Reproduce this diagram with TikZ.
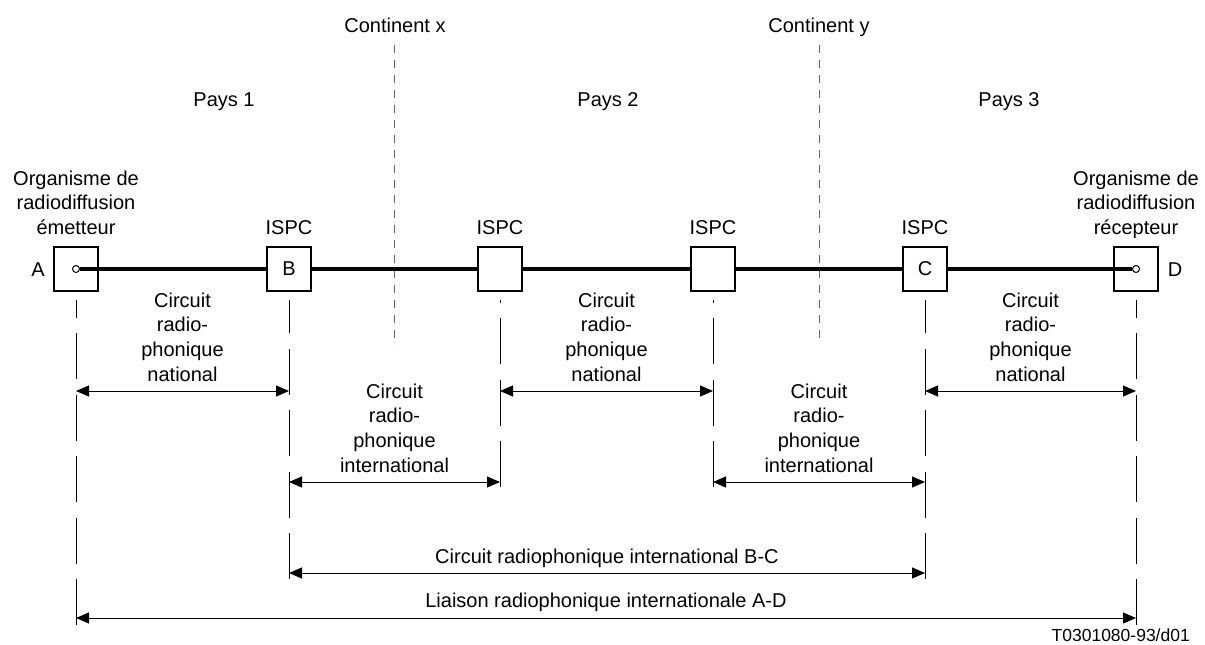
\documentclass[tikz,border=0pt]{standalone}
\usepackage{fontspec}
\setmainfont{Liberation Sans}
\usetikzlibrary{arrows.meta,positioning}

\tikzset{
    station/.style={draw, line width=2.2pt, minimum size=44pt, inner sep=0pt, font=\fontsize{20}{24.7}\selectfont},
    port/.style={draw, circle, line width=1pt, minimum size=7pt, inner sep=0pt, fill=white},
    lbl/.style={font=\fontsize{20}{24.7}\selectfont, align=center, inner sep=0pt},
    link/.style={line width=3.2pt},
    guide/.style={line width=1pt, dash pattern=on 46pt off 15.5pt},
    border/.style={line width=1pt, black!60, dash pattern=on 8pt off 7pt},
    span/.style={line width=1pt, {Triangle[length=13pt,width=11pt]}-{Triangle[length=13pt,width=11pt]}},
}

\begin{document}
\begin{tikzpicture}[x=1pt, y=-1pt]
    \useasboundingbox (0,0) rectangle (1205,645);

    % continents and countries
    \node[lbl, anchor=base] (contx) at (395,32) {Continent x};
    \node[lbl, anchor=base] (conty) at (819,32) {Continent y};
    \coordinate (contx-top) at (394,45);
    \coordinate (contx-bot) at (394,345);
    \coordinate (conty-top) at (819,45);
    \coordinate (conty-bot) at (819,345);
    \draw[border] (contx-top) -- (contx-bot);
    \draw[border] (conty-top) -- (conty-bot);

    \node[lbl, anchor=base] (pays1) at (224,106) {Pays 1};
    \node[lbl, anchor=base] (pays2) at (608,106) {Pays 2};
    \node[lbl, anchor=base] (pays3) at (1009,106) {Pays 3};

    % stations
    \node[station] (a) at (76,269) {};
    \node[station] (b) at (289,269) {B};
    \node[station] (ispcx) at (500,269) {};
    \node[station] (ispcy) at (713,269) {};
    \node[station] (c) at (925,269) {C};
    \node[station] (d) at (1136,269) {};
    \node[port] (pa) at (a.center) {};
    \node[port] (pd) at (d.center) {};

    \draw[link] (pa) -- (b) -- (ispcx) -- (ispcy) -- (c) -- (pd);

    \node[lbl, anchor=base] (la) at (38,276) {A};
    \node[lbl, anchor=base] (ld) at (1175,276) {D};
    \node[lbl, above=11pt of a] (orga) {Organisme de\\radiodiffusion\\émetteur};
    \node[lbl, above=7pt of d] (orgd) {Organisme de\\radiodiffusion\\récepteur};
    \foreach \s in {b, ispcx, ispcy, c}
        \node[lbl, above=11pt of \s] (\s-name) {ISPC};

    % reference lines under the stations
    \foreach \s/\e in {a/625, b/579, ispcx/487, ispcy/487, c/579, d/625} {
        \coordinate (\s-foot) at (\s.center |- 0,\e);
        \coordinate (\s-head) at (\s.center |- 0,300);
        \draw[guide] (\s-foot) -- (\s-head);
    }

    \coordinate (nat) at (0,391);
    \coordinate (intl) at (0,482);
    \coordinate (bc) at (0,573);
    \coordinate (ad) at (0,618);

    \draw[span] (a |- nat) -- node[lbl, anchor=south, yshift=9pt] {Circuit\\radio-\\phonique\\national} (b |- nat);
    \draw[span] (ispcx |- nat) -- node[lbl, anchor=south, yshift=9pt] {Circuit\\radio-\\phonique\\national} (ispcy |- nat);
    \draw[span] (c |- nat) -- node[lbl, anchor=south, yshift=9pt] {Circuit\\radio-\\phonique\\national} (d |- nat);

    \draw[span] (b |- intl) -- node[lbl, anchor=south, yshift=9pt] {Circuit\\radio-\\phonique\\international} (ispcx |- intl);
    \draw[span] (ispcy |- intl) -- node[lbl, anchor=south, yshift=9pt] {Circuit\\radio-\\phonique\\international} (c |- intl);

    \draw[span] (b |- bc) -- node[lbl, anchor=base, yshift=10pt] {Circuit radiophonique international B-C} (c |- bc);
    \draw[span] (a |- ad) -- node[lbl, anchor=base, yshift=11pt] {Liaison radiophonique internationale A-D} (d |- ad);

    \node[lbl, font=\fontsize{17.5}{21}\selectfont, anchor=base east] (ref) at (1190,641) {T0301080-93/d01};

\end{tikzpicture}
\end{document}
